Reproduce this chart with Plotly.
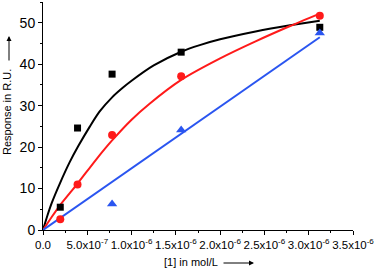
import plotly.graph_objects as go

# concentration of [1] in mol/L
conc = [0.195e-6, 0.39e-6, 0.78e-6, 1.56e-6, 3.125e-6]
black_pts = [5.5, 24.6, 37.6, 42.9, 48.9]
red_pts = [2.6, 11.0, 22.9, 37.1, 51.7]
blue_conc = [0.78e-6, 1.56e-6, 3.125e-6]
blue_pts = [6.3, 24.1, 47.5]

# fitted curves
black_fit_x = [0, 0.05e-6, 0.1e-6, 0.19e-6, 0.3e-6, 0.4e-6, 0.53e-6, 0.64e-6, 0.78e-6,
               0.9e-6, 1.0e-6, 1.25e-6, 1.56e-6, 1.77e-6, 2.0e-6, 2.4e-6, 2.79e-6, 3.125e-6]
black_fit_y = [0, 3.5, 6.6, 11.2, 16.3, 20.3, 25.0, 28.6, 32.0,
               34.3, 36.0, 39.7, 43.0, 44.6, 46.0, 47.9, 49.4, 50.5]
red_fit_x = [0, 0.1e-6, 0.2e-6, 0.39e-6, 0.6e-6, 0.78e-6, 1.0e-6, 1.2e-6, 1.56e-6,
             2.0e-6, 2.4e-6, 2.79e-6, 3.125e-6]
red_fit_y = [0, 3.2, 6.2, 11.2, 17.0, 21.6, 26.6, 30.4, 36.2,
             41.4, 45.5, 49.2, 52.2]
blue_fit_x = [0, 3.125e-6]
blue_fit_y = [0, 46.5]

x_tickvals = [0, 0.5e-6, 1.0e-6, 1.5e-6, 2.0e-6, 2.5e-6, 3.0e-6, 3.5e-6]
x_ticktext = ["0.0", "5.0x10<sup>-7</sup>", "1.0x10<sup>-6</sup>", "1.5x10<sup>-6</sup>",
              "2.0x10<sup>-6</sup>", "2.5x10<sup>-6</sup>", "3.0x10<sup>-6</sup>",
              "3.5x10<sup>-6</sup>"]
y_tickvals = [0, 10, 20, 30, 40, 50]

BLACK = "#000000"
RED = "#ff1a1a"
BLUE = "#2a55f0"
FONT = "Arial, Liberation Sans, sans-serif"

fig = go.Figure()
fig.add_trace(go.Scatter(x=black_fit_x, y=black_fit_y, mode="lines",
                         line=dict(color=BLACK, width=2, shape="spline", smoothing=0.8),
                         showlegend=False))
fig.add_trace(go.Scatter(x=red_fit_x, y=red_fit_y, mode="lines",
                         line=dict(color=RED, width=2, shape="spline", smoothing=0.6),
                         showlegend=False))
fig.add_trace(go.Scatter(x=blue_fit_x, y=blue_fit_y, mode="lines",
                         line=dict(color=BLUE, width=2), showlegend=False))
fig.add_trace(go.Scatter(x=conc, y=black_pts, mode="markers",
                         marker=dict(symbol="square", size=7, color=BLACK), showlegend=False))
fig.add_trace(go.Scatter(x=conc, y=red_pts, mode="markers",
                         marker=dict(symbol="circle", size=8, color=RED), showlegend=False))
fig.add_trace(go.Scatter(x=blue_conc, y=blue_pts, mode="markers",
                         marker=dict(symbol="triangle-up", size=9, color=BLUE), showlegend=False))

W, H = 376, 273
L, R, T, B = 43, 23, 2, 43
pw, ph = W - L - R, H - T - B

def px(xp):
    return (xp - L) / pw

def py(yp):
    return (H - B - yp) / ph

fig.update_layout(
    width=W, height=H,
    margin=dict(l=L, r=R, t=T, b=B, autoexpand=False),
    paper_bgcolor="white", plot_bgcolor="white",
    font=dict(family=FONT, color="black"),
    xaxis=dict(range=[0, 3.5e-6], tickvals=x_tickvals, ticktext=x_ticktext,
               tickangle=0, automargin=False,
               ticks="outside", ticklen=4, tickwidth=1, tickcolor="black",
               showline=True, linecolor="black", linewidth=1,
               showgrid=False, zeroline=False,
               tickfont=dict(size=11.5, family=FONT),
               minor=dict(ticks="outside", ticklen=2, dtick=0.25e-6, tickcolor="black")),
    yaxis=dict(range=[0, 55], tickvals=y_tickvals, automargin=False,
               ticks="outside", ticklen=4, tickwidth=1, tickcolor="black",
               showline=True, linecolor="black", linewidth=1,
               showgrid=False, zeroline=False,
               tickfont=dict(size=14, family=FONT),
               minor=dict(ticks="outside", ticklen=2, dtick=5, tickcolor="black")),
    annotations=[
        dict(text="[1] in mol/L", xref="paper", yref="paper", x=px(162), y=py(262),
             xanchor="left", yanchor="middle", showarrow=False, font=dict(size=11)),
        dict(text="", xref="paper", yref="paper", x=px(254), y=py(263),
             ax=-32, ay=0, showarrow=True, arrowhead=2, arrowsize=1, arrowwidth=1,
             arrowcolor="black"),
        dict(text="Response in R.U.", xref="paper", yref="paper", x=px(7), y=py(157),
             xanchor="center", yanchor="bottom", textangle=-90, showarrow=False,
             font=dict(size=11)),
        dict(text="", xref="paper", yref="paper", x=px(9), y=py(36),
             ax=0, ay=26, showarrow=True, arrowhead=2, arrowsize=1, arrowwidth=1,
             arrowcolor="black"),
    ],
)

fig.write_html("out.html", config={"displayModeBar": False},
               post_script="document.body.style.margin='0';document.body.style.overflow='hidden';")
